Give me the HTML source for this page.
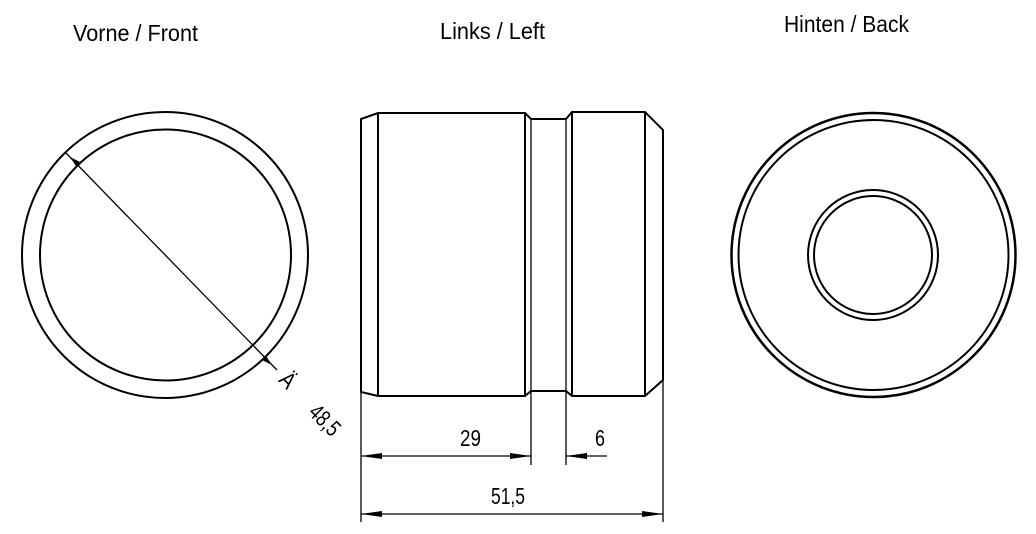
<!DOCTYPE html>
<html><head><meta charset="utf-8"><style>
html,body{margin:0;padding:0;background:#fff;}
svg{display:block;}
text{font-family:"Liberation Sans",sans-serif;fill:#000;}
</style></head><body>
<svg width="1036" height="534" viewBox="0 0 1036 534" xmlns="http://www.w3.org/2000/svg">
<g font-size="23">
<text x="73" y="41" textLength="125" lengthAdjust="spacingAndGlyphs">Vorne / Front</text>
<text x="440" y="39" textLength="105" lengthAdjust="spacingAndGlyphs">Links / Left</text>
<text x="784" y="32" textLength="125" lengthAdjust="spacingAndGlyphs">Hinten / Back</text>
</g>
<g fill="none" stroke="#000">
<circle cx="165" cy="255" r="143" stroke-width="2"/>
<circle cx="165.5" cy="255" r="125.5" stroke-width="2"/>
<line x1="65" y1="152" x2="277" y2="370" stroke-width="1.3"/>
<circle cx="873.5" cy="255" r="142" stroke-width="2.5"/>
<circle cx="873.5" cy="255" r="135" stroke-width="2"/>
<circle cx="873" cy="255" r="65" stroke-width="2"/>
<circle cx="873" cy="255" r="59" stroke-width="2"/>
<path d="M361 119 L378 113 L525 113 L531 119 L566 119 L572 112 L645 112 L663 130 L663 380 L645 396 L572 396 L566 391 L531 391 L525 396 L378 396 L361 392 Z" stroke-width="2"/>
<line x1="378" y1="113" x2="378" y2="396" stroke-width="2"/>
<line x1="525" y1="113" x2="525" y2="396" stroke-width="2"/>
<line x1="572" y1="112" x2="572" y2="396" stroke-width="2"/>
<line x1="645" y1="112" x2="645" y2="396" stroke-width="2"/>
<line x1="531" y1="119" x2="531" y2="465" stroke-width="1.3"/>
<line x1="566" y1="119" x2="566" y2="465" stroke-width="1.3"/>
<line x1="361" y1="392" x2="361" y2="522" stroke-width="1.3"/>
<line x1="663" y1="380" x2="663" y2="522" stroke-width="1.3"/>
<line x1="361" y1="456" x2="531" y2="456" stroke-width="1.3"/>
<line x1="566" y1="456" x2="607" y2="456" stroke-width="1.3"/>
<line x1="361" y1="514" x2="663" y2="514" stroke-width="1.3"/>
</g>
<g fill="#000">
<path d="M70 157 L80 162 L76 166 Z"/>
<path d="M272 365 L262 360 L266 356 Z"/>
<path d="M361 456 L382 453 L382 459 Z"/>
<path d="M531 456 L510 453 L510 459 Z"/>
<path d="M566 456 L587 453 L587 459 Z"/>
<path d="M361 514 L382 511 L382 517 Z"/>
<path d="M663 514 L642 511 L642 517 Z"/>
</g>
<g font-size="23">
<text x="460" y="446" textLength="21" lengthAdjust="spacingAndGlyphs">29</text>
<text x="595" y="446" textLength="10" lengthAdjust="spacingAndGlyphs">6</text>
<text x="491" y="504" textLength="34" lengthAdjust="spacingAndGlyphs">51,5</text>
<text x="288" y="388" text-anchor="middle" transform="rotate(45 288 380)" textLength="13" lengthAdjust="spacingAndGlyphs">Ä</text>
<text x="325" y="428" text-anchor="middle" transform="rotate(45 325 420)" textLength="34" lengthAdjust="spacingAndGlyphs">48,5</text>
</g>
</svg>
</body></html>
